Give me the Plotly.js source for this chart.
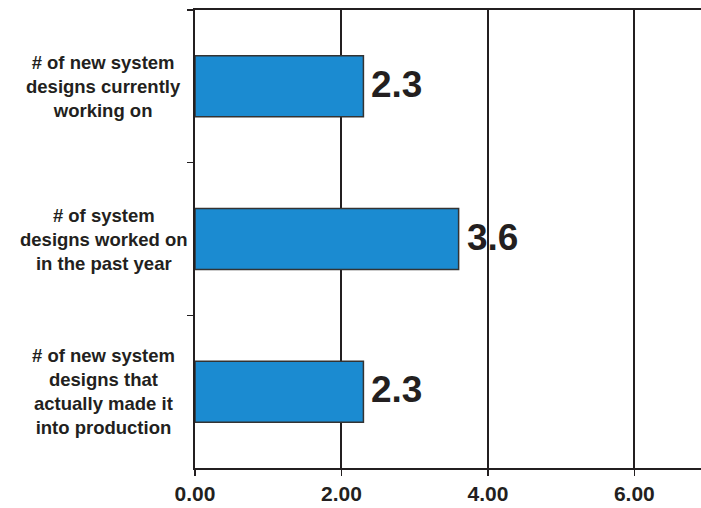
<!DOCTYPE html>
<html>
<head>
<meta charset="utf-8">
<script src="https://cdn.plot.ly/plotly-3.0.1.min.js"></script>
<style>
  html, body { margin: 0; padding: 0; background: #fff; }
  #chart { width: 701px; height: 508px; }
</style>
</head>
<body>
<div id="chart"></div>
<script>
// Category labels, listed top to bottom
const categories = [
  "# of new system<br>designs currently<br>working on",
  "# of system<br>designs worked on<br>in the past year",
  "# of new system<br>designs that<br>actually made it<br>into production"
];
const values = [2.3, 3.6, 2.3];
const valueLabels = ["2.3", "3.6", "2.3"];
const xTickVals = [0, 2, 4, 6];
const xTickText = ["0.00", "2.00", "4.00", "6.00"];

const ink = "#231f20";
const font = "Liberation Sans, Arial, Helvetica, sans-serif";

const trace = {
  type: "bar",
  orientation: "h",
  y: categories,
  x: values,
  marker: { color: "#1b8bd1", line: { color: "#333333", width: 1.5 } },
  hoverinfo: "skip"
};

// Centered multi-line category labels on the left
const categoryNotes = categories.map((c) => ({
  xref: "paper",
  yref: "y",
  x: -0.18,
  y: c,
  text: c,
  showarrow: false,
  xanchor: "center",
  yanchor: "middle",
  align: "center",
  font: { family: font, size: 18.5, color: ink, weight: "bold" }
}));

// Value labels just past the end of each bar
const valueNotes = values.map((v, i) => ({
  xref: "x",
  yref: "y",
  x: v,
  y: categories[i],
  text: valueLabels[i],
  showarrow: false,
  xanchor: "left",
  yanchor: "middle",
  xshift: 6,
  yshift: 2,
  font: { family: font, size: 37, color: ink, weight: "bold" }
}));

const layout = {
  width: 701,
  height: 508,
  margin: { l: 195, r: 0, t: 10, b: 40 },
  paper_bgcolor: "#ffffff",
  plot_bgcolor: "#ffffff",
  showlegend: false,
  bargap: 0.6,
  xaxis: {
    range: [0, 6.91],
    tickvals: xTickVals,
    ticktext: xTickText,
    ticks: "outside",
    ticklen: 6,
    tickwidth: 1.5,
    tickcolor: ink,
    showgrid: true,
    gridcolor: ink,
    gridwidth: 2,
    zeroline: false,
    showline: true,
    linecolor: ink,
    linewidth: 2,
    mirror: true,
    ticklabelstandoff: 0,
    tickfont: { family: font, size: 21, color: ink, weight: "bold" },
    fixedrange: true
  },
  yaxis: {
    type: "category",
    autorange: "reversed",
    tickson: "boundaries",
    ticks: "outside",
    ticklen: 6,
    tickwidth: 1.5,
    tickcolor: ink,
    showticklabels: false,
    showgrid: false,
    zeroline: false,
    showline: true,
    linecolor: ink,
    linewidth: 2,
    fixedrange: true
  },
  annotations: categoryNotes.concat(valueNotes)
};

Plotly.newPlot("chart", [trace], layout, { displayModeBar: false, staticPlot: true });
</script>
</body>
</html>
